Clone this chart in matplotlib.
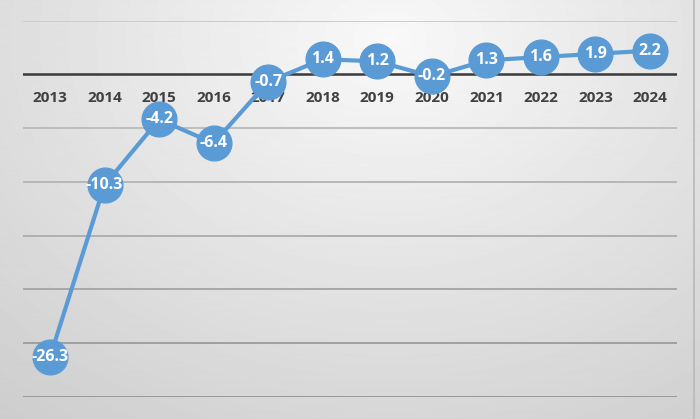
import numpy as np
import matplotlib.pyplot as plt

years = ['2013', '2014', '2015', '2016', '2017', '2018', '2019', '2020',
         '2021', '2022', '2023', '2024']
values = [-26.3, -10.3, -4.2, -6.4, -0.7, 1.4, 1.2, -0.2, 1.3, 1.6, 1.9, 2.2]

W, H = 700, 419
fig = plt.figure(figsize=(W / 100, H / 100), dpi=100)

# radial grey background
bg = fig.add_axes([0, 0, 1, 1])
yy, xx = np.mgrid[0:H, 0:W]
d = np.sqrt(((xx - 390) / 620.0) ** 2 + ((yy - 40) / 480.0) ** 2)
d = np.clip(d, 0, 1)
shade = 0.975 - 0.17 * d
bg.imshow(shade, cmap='gray', vmin=0, vmax=1, aspect='auto', extent=[0, W, H, 0])
bg.plot([694, 694], [0, H], color='#b8b8b8', lw=1.2)
bg.set_xlim(0, W)
bg.set_ylim(H, 0)
bg.axis('off')

ax = fig.add_axes([22.7 / W, 1 - 397 / H, 654.6 / W, 376.5 / H])
ax.patch.set_alpha(0)
x = np.arange(len(years))
ax.set_xlim(-0.5, len(years) - 0.5)
ax.set_ylim(-30, 5)

for g in range(-30, 6, 5):
    if g == 0:
        continue
    c = 0.8 - 0.2 * (5 - g) / 35
    ax.axhline(g, color=(c, c, c), lw=1.4, zorder=1)
ax.axhline(0, color='#3a3a3a', lw=1.8, zorder=2)

ax.plot(x, values, color='#5b9bd5', lw=3, marker='o', markersize=25,
        markerfacecolor='#5b9bd5', markeredgecolor='#5b9bd5', zorder=3)

for i, v in enumerate(values):
    ax.text(i, v, '%.1f' % v, ha='center', va='center', color='white',
            fontsize=11.5, fontweight='bold', family='Open Sans', zorder=4)
    ax.annotate(years[i], (i, 0), xytext=(0, -17), textcoords='offset points',
                ha='center', va='center', color='#404040', fontsize=11,
                fontweight='bold', family='Open Sans', zorder=2.5)

for s in ax.spines.values():
    s.set_visible(False)
ax.set_xticks([])
ax.set_yticks([])

fig.savefig('out.png', dpi=100)
